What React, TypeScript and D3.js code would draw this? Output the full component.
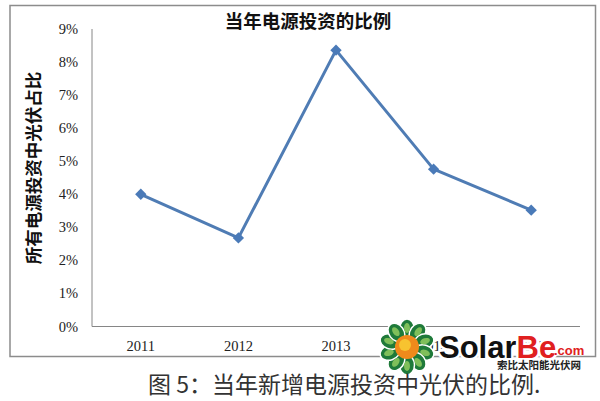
import React from "react";
import * as d3 from "d3";

const years = ["2011", "2012", "2013", "2014", "2015"];
const shares = [0.04, 0.0268, 0.0836, 0.0476, 0.0352];
const yTicks = [0, 0.01, 0.02, 0.03, 0.04, 0.05, 0.06, 0.07, 0.08, 0.09];
const chartTitle = "当年电源投资的比例";
const yTitle = "所有电源投资中光伏占比";
const caption = "图 5：当年新增电源投资中光伏的比例.";

const W = 600;
const H = 401;
const plot = { left: 92, right: 580, top: 29, bottom: 326.5 };

export default function App() {
  const x = d3.scaleBand<string>().domain(years).range([plot.left, plot.right]);
  const cx = (d: string) => (x(d) as number) + x.bandwidth() / 2;
  const y = d3.scaleLinear().domain([0, 0.09]).range([plot.bottom, plot.top]);
  const line = d3
    .line<number>()
    .x((_, i) => cx(years[i]))
    .y((v) => y(v));
  const fmt = d3.format(".0%");
  const serif = "'Liberation Serif', 'Noto Sans CJK SC', serif";
  const cjk = "'Noto Sans CJK SC', sans-serif";

  // logo geometry
  const fx = 407;
  const fy = 347;
  const petals = d3.range(10).map((i) => (i * 360) / 10);

  return (
    <svg
      width={W}
      height={H}
      style={{ position: "absolute", left: 0, top: 0, background: "#fff" }}
    >
      <rect x={0} y={0} width={W} height={H} fill="#fff" />
      <rect x={10} y={5.5} width={585.5} height={351} fill="#fff" stroke="#8c8c8c" strokeWidth={1.5} />
      <text x={308} y={28} textAnchor="middle" fontFamily={cjk} fontWeight={700} fontSize={18.5} fill="#111">
        {chartTitle}
      </text>
      <text
        transform={`translate(40,168) rotate(-90)`}
        textAnchor="middle"
        fontFamily={cjk}
        fontWeight={700}
        fontSize={17.5}
        fill="#111"
      >
        {yTitle}
      </text>
      {/* axes */}
      <line x1={plot.left} x2={plot.left} y1={plot.top} y2={plot.bottom} stroke="#868686" strokeWidth={1} />
      <line x1={plot.left} x2={plot.right} y1={plot.bottom} y2={plot.bottom} stroke="#868686" strokeWidth={1} />
      {yTicks.map((t) => (
        <text key={t} x={78} y={y(t) + 5} textAnchor="end" fontFamily={serif} fontSize={14.5} fill="#222">
          {fmt(t)}
        </text>
      ))}
      {years.map((yr) => (
        <text key={yr} x={cx(yr)} y={351} textAnchor="middle" fontFamily={serif} fontSize={14.5} fill="#222">
          {yr}
        </text>
      ))}
      <path d={line(shares) || ""} fill="none" stroke="#4f7cb4" strokeWidth={3} strokeLinejoin="round" />
      {shares.map((v, i) => (
        <rect
          key={i}
          x={cx(years[i]) - 4}
          y={y(v) - 4}
          width={8}
          height={8}
          fill="#4a7ab8"
          transform={`rotate(45 ${cx(years[i])} ${y(v)})`}
        />
      ))}
      {/* watermark logo */}
      <g>
        {petals.map((a) => (
          <ellipse
            key={a}
            cx={fx}
            cy={fy - 18}
            rx={7.5}
            ry={10}
            fill="#1f7a3a"
            stroke="#fff"
            strokeWidth={1.5}
            transform={`rotate(${a} ${fx} ${fy})`}
          />
        ))}
        {petals.map((a) => (
          <ellipse
            key={"i" + a}
            cx={fx}
            cy={fy - 19}
            rx={3}
            ry={5}
            fill="#7fbf5a"
            transform={`rotate(${a} ${fx} ${fy})`}
          />
        ))}
        <circle cx={fx} cy={fy} r={12} fill="#f08a1c" />
        <circle cx={fx - 2} cy={fy - 2} r={6} fill="#f7c330" />
        <text
          x={439}
          y={358}
          fontFamily="'Liberation Sans', Arial, sans-serif"
          fontWeight={700}
          fontSize={31}
          fill="#111"
          stroke="#fff"
          strokeWidth={5}
          strokeLinejoin="round"
          style={{ paintOrder: "stroke" }}
        >
          Solar
          <tspan fill="#e02020">Be</tspan>
        </text>
        <text x={554} y={355} fontFamily="'Liberation Sans', Arial, sans-serif" fontWeight={700} fontSize={13} fill="#e02020">
          .com
        </text>
        <text x={497} y={368.5} fontFamily={cjk} fontWeight={700} fontSize={10.5} fill="#222">
          索比太阳能光伏网
        </text>
      </g>
      <text x={148} y={393} fontFamily={cjk} fontSize={23} fill="#333">
        {caption}
      </text>
    </svg>
  );
}
